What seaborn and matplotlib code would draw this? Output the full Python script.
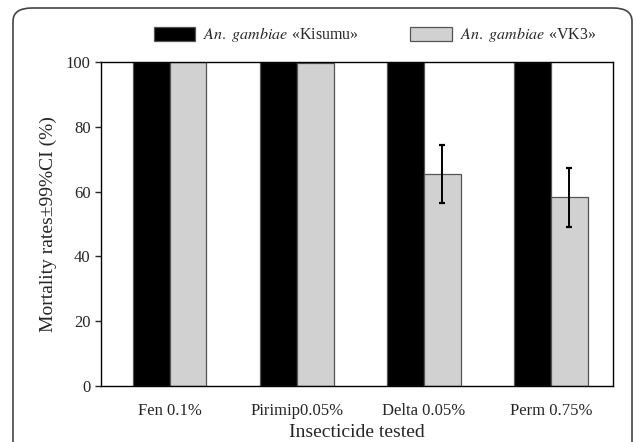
import pandas as pd
import numpy as np
import matplotlib
matplotlib.use("Agg")
import matplotlib.pyplot as plt
import seaborn as sns
from matplotlib.patches import FancyBboxPatch

# data
insecticides = ["Fen 0.1%", "Pirimip0.05%", "Delta 0.05%", "Perm 0.75%"]
kisumu = [100, 100, 100, 100]
vk3 = [100, 99.7, 65.5, 58.4]
vk3_low = [100, 99.7, 56.5, 49.2]
vk3_high = [100, 99.7, 74.4, 67.4]
strains = ["$\\mathit{An.}$ $\\mathit{gambiae}$ «Kisumu»", "$\\mathit{An.}$ $\\mathit{gambiae}$ «VK3»"]

df = pd.DataFrame({
    "Insecticide": insecticides * 2,
    "Mortality": kisumu + vk3,
    "Strain": [strains[0]] * 4 + [strains[1]] * 4,
})

sns.set_style("ticks")
plt.rcParams["font.family"] = ["Liberation Serif", "DejaVu Serif"]
plt.rcParams["mathtext.fontset"] = "stix"

fig = plt.figure(figsize=(6.34, 4.42), dpi=100)
ax = fig.add_axes([0.1593, 0.1267, 0.8076, 0.733])

sns.barplot(data=df, x="Insecticide", y="Mortality", hue="Strain",
            palette=["#000000", "#d0d1d0"], width=0.58, ax=ax,
            edgecolor="#555555", linewidth=0.9, saturation=1)

# error bars on VK3 bars
gray_bars = ax.containers[1]
xs = [b.get_x() + b.get_width() / 2 for b in gray_bars]
yerr = np.array([np.array(vk3) - np.array(vk3_low), np.array(vk3_high) - np.array(vk3)])
mask = yerr.sum(axis=0) > 0
ax.errorbar(np.array(xs)[mask], np.array(vk3)[mask], yerr=yerr[:, mask],
            fmt="none", ecolor="black", elinewidth=1.4, capsize=2.5, capthick=1.6)

ax.set_ylim(0, 100)
ax.set_xlim(-0.54, 3.49)
ax.set_yticks(range(0, 101, 20))
ax.tick_params(axis="y", labelsize=12, length=4, width=1, direction="out")
ax.tick_params(axis="x", labelsize=12, length=0, pad=12)
for s in ax.spines.values():
    s.set_visible(True)
    s.set_linewidth(1)
    s.set_color("black")
ax.set_xlabel("Insecticide tested", fontsize=14, labelpad=4)
ax.set_ylabel("Mortality rates±99%CI (%)", fontsize=14, labelpad=6)

ax.legend(loc="lower center", bbox_to_anchor=(0.535, 1.01), ncol=2, frameon=False,
          fontsize=11.5, handlelength=2.6, handleheight=1.05, columnspacing=3.2,
          handletextpad=0.5)

# rounded outer frame
frame = FancyBboxPatch((13 / 634, -0.1), 619 / 634, 1.1 - 8 / 442,
                       boxstyle="round,pad=0,rounding_size=0.03",
                       transform=fig.transFigure, fill=False,
                       edgecolor="#444444", linewidth=1.2, clip_on=False)
fig.patches.append(frame)

fig.savefig("out.png", dpi=100)
